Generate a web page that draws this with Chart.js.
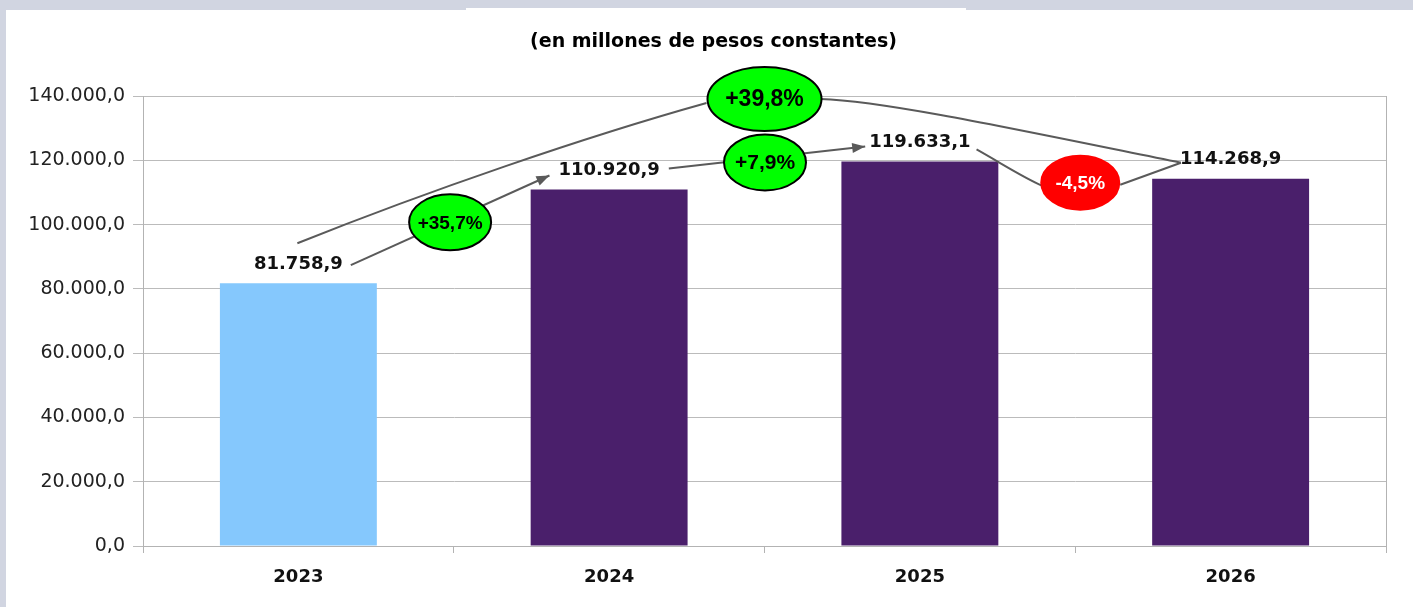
<!DOCTYPE html>
<html>
<head>
<meta charset="utf-8">
<script src="https://cdn.jsdelivr.net/npm/chart.js@4/dist/chart.umd.min.js"></script>
<style>
    html, body { margin: 0; padding: 0; background: #d1d5e1; }
    body { width: 1413px; height: 607px; position: relative; overflow: hidden; }
    .panel { position: absolute; left: 6px; top: 10px; width: 1407px; height: 597px; background: #fff; }
    .notch { position: absolute; left: 466px; top: 8px; width: 500px; height: 4px; background: #fff; }
</style>
</head>
<body>
<div class="notch"></div>
<div class="panel">
    <canvas id="chart" width="1407" height="597"></canvas>
</div>
<script>
const categories = ['2023', '2024', '2025', '2026'];
const values = [81758.9, 110920.9, 119633.1, 114268.9];
const barColors = ['#85c8fd', '#4a1f6b', '#4a1f6b', '#4a1f6b'];
const yearChanges = ['+35,7%', '+7,9%', '-4,5%'];
const totalChange = '+39,8%';
const yMax = 140000;
const yStep = 20000;

const FONT = 'DejaVu Sans';
const BUBBLE_FONT = 'Liberation Sans';
const LINE = '#5a5a5a';

function fmt(v, dec) {
    const parts = v.toFixed(dec).split('.');
    const int = parts[0].replace(/\B(?=(\d{3})+(?!\d))/g, '.');
    return parts[1] ? int + ',' + parts[1] : int;
}

function arrowHead(ctx, x1, y1, x2, y2) {
    const a = Math.atan2(y2 - y1, x2 - x1);
    const len = 13, w = 5;
    ctx.beginPath();
    ctx.moveTo(x2, y2);
    ctx.lineTo(x2 - len * Math.cos(a) + w * Math.sin(a), y2 - len * Math.sin(a) - w * Math.cos(a));
    ctx.lineTo(x2 - len * Math.cos(a) - w * Math.sin(a), y2 - len * Math.sin(a) + w * Math.cos(a));
    ctx.closePath();
    ctx.fill();
}

function bubble(ctx, cx, cy, rx, ry, fill, border, text, color, size) {
    ctx.beginPath();
    ctx.ellipse(cx, cy, rx, ry, 0, 0, Math.PI * 2);
    ctx.fillStyle = fill;
    ctx.fill();
    ctx.lineWidth = 2;
    ctx.strokeStyle = border;
    ctx.stroke();
    ctx.fillStyle = color;
    ctx.font = 'bold ' + size + 'px ' + BUBBLE_FONT;
    ctx.textAlign = 'center';
    ctx.textBaseline = 'middle';
    ctx.fillText(text, cx, cy + 1);
}

const annotations = {
    id: 'annotations',
    afterDraw(chart) {
        const ctx = chart.ctx;
        const area = chart.chartArea;
        const bars = chart.getDatasetMeta(0).data;
        const yScale = chart.scales.y;

        ctx.save();

        // right border of plot area
        ctx.strokeStyle = '#b3b3b3';
        ctx.lineWidth = 1;
        ctx.beginPath();
        ctx.moveTo(area.right + 0.5, area.top);
        ctx.lineTo(area.right + 0.5, area.bottom);
        ctx.stroke();

        // title
        ctx.fillStyle = '#000';
        ctx.font = 'bold 19px ' + FONT;
        ctx.textAlign = 'center';
        ctx.textBaseline = 'middle';
        ctx.fillText('(en millones de pesos constantes)', chart.width / 2 + 4, 32);

        // value labels
        ctx.font = 'bold 18px ' + FONT;
        const L = bars.map((b, i) => {
            const t = fmt(values[i], 1);
            const hw = ctx.measureText(t).width / 2;
            return { x: b.x, y: b.y - 19, hw: hw, l: b.x - hw, r: b.x + hw, t: t };
        });
        ctx.fillStyle = '#111';
        L.forEach(l => ctx.fillText(l.t, l.x, l.y));

        ctx.strokeStyle = LINE;
        ctx.fillStyle = LINE;
        ctx.lineWidth = 2;

        // 2023 -> 2024 arrow
        const a0 = { x: L[0].r + 8, y: L[0].y + 1 };
        const a1 = { x: L[1].l - 9, y: L[1].y + 5 };
        ctx.beginPath(); ctx.moveTo(a0.x, a0.y); ctx.lineTo(a1.x, a1.y); ctx.stroke();
        arrowHead(ctx, a0.x, a0.y, a1.x, a1.y);

        // 2024 -> 2025 arrow
        const b0 = { x: L[1].r + 9, y: L[1].y - 2 };
        const b1 = { x: L[2].l - 4, y: L[2].y + 4 };
        ctx.beginPath(); ctx.moveTo(b0.x, b0.y); ctx.lineTo(b1.x, b1.y); ctx.stroke();
        arrowHead(ctx, b0.x, b0.y, b1.x, b1.y);

        // 2025 -> 2026 drop
        const rc = { x: (L[2].r + L[3].l) / 2 + 5, y: L[3].y + 23 };
        const c0 = { x: L[2].r + 6, y: L[2].y + 7 };
        ctx.beginPath();
        ctx.moveTo(c0.x, c0.y);
        ctx.bezierCurveTo(c0.x + 25, c0.y + 14, rc.x - 55, rc.y - 4, rc.x - 38, rc.y + 3);
        ctx.stroke();
        ctx.beginPath();
        ctx.moveTo(rc.x + 40, rc.y + 2);
        ctx.lineTo(L[3].l + 1, L[3].y + 3);
        ctx.stroke();

        // 2023 -> 2026 big curve
        const big = { x: (bars[0].x + bars[3].x) / 2, y: yScale.getPixelForValue(yMax) + 3 };
        const d0 = { x: L[0].x - 1, y: L[0].y - 21 };
        ctx.beginPath();
        ctx.moveTo(d0.x, d0.y);
        ctx.bezierCurveTo(d0.x + 130, d0.y - 52, big.x - 180, big.y + 38, big.x - 58, big.y + 4);
        ctx.stroke();
        ctx.beginPath();
        ctx.moveTo(big.x + 56, big.y);
        ctx.bezierCurveTo(big.x + 120, big.y + 2, big.x + 250, big.y + 30, L[3].l + 1, L[3].y + 3);
        ctx.stroke();

        // bubbles
        bubble(ctx, (a0.x + a1.x) / 2, (a0.y + a1.y) / 2 + 2, 41, 28, '#00ff00', '#000', yearChanges[0], '#000', 19);
        bubble(ctx, (b0.x + b1.x) / 2 - 2, (b0.y + b1.y) / 2 + 5, 41, 28, '#00ff00', '#000', yearChanges[1], '#000', 21);
        bubble(ctx, rc.x, rc.y, 39, 27, '#ff0000', '#ff0000', yearChanges[2], '#fff', 19);
        bubble(ctx, big.x, big.y, 57, 32, '#00ff00', '#000', totalChange, '#000', 23);

        ctx.restore();
    }
};

new Chart(document.getElementById('chart'), {
    type: 'bar',
    data: {
        labels: categories,
        datasets: [{
            data: values,
            backgroundColor: barColors,
            borderWidth: 0,
            categoryPercentage: 1,
            barPercentage: 0.505
        }]
    },
    options: {
        responsive: false,
        animation: false,
        layout: { padding: { top: 86, right: 27, left: 0, bottom: 0 } },
        plugins: {
            legend: { display: false },
            tooltip: { enabled: false },
            title: { display: false }
        },
        scales: {
            x: {
                grid: {
                    offset: true,
                    drawOnChartArea: false,
                    color: '#b3b3b3',
                    tickLength: 7
                },
                border: { color: '#b3b3b3', width: 1 },
                ticks: {
                    color: '#111',
                    font: { family: FONT, size: 18, weight: 'bold' },
                    padding: 14
                },
                afterFit(scale) { scale.height = 61; }
            },
            y: {
                min: 0,
                max: yMax,
                grid: { color: '#bbbbbb', tickLength: 10 },
                border: { color: '#b3b3b3', width: 1 },
                ticks: {
                    stepSize: yStep,
                    color: '#222',
                    padding: 8,
                    font: { family: FONT, size: 19 },
                    callback: v => fmt(v, 1)
                },
                afterFit(scale) { scale.width = 137; }
            }
        }
    },
    plugins: [annotations]
});
</script>
</body>
</html>
